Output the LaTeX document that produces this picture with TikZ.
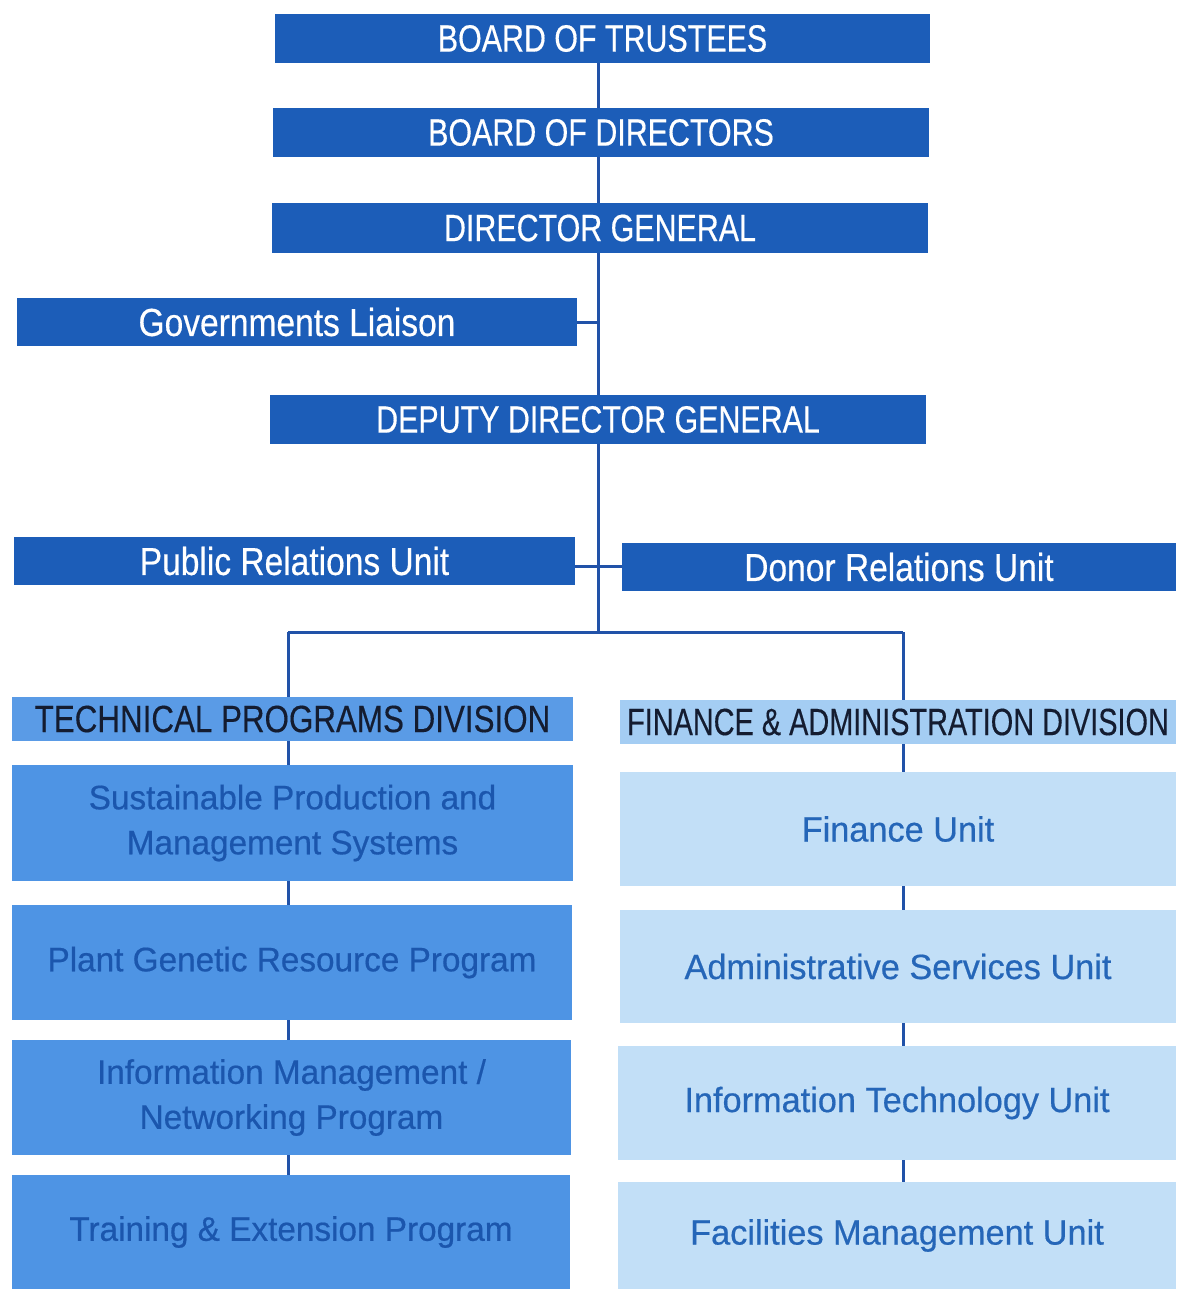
\documentclass[tikz,border=0pt]{standalone}
\usepackage{fontspec}
\setmainfont{Liberation Sans}
\newfontfamily\capsfont{Liberation Sans}[FakeStretch=0.80,FakeBold=0.4]
\newfontfamily\mixfont{Liberation Sans}[FakeStretch=0.86,FakeBold=0.4]
\newfontfamily\tpdfont{Liberation Sans}[FakeStretch=0.825,FakeBold=0.3]
\newfontfamily\fadfont{Liberation Sans}[FakeStretch=0.76,FakeBold=0.3]
\newfontfamily\boxfont{Liberation Sans}[FakeStretch=0.98,FakeBold=0.5]
\begin{document}
\begin{tikzpicture}[x=1pt,y=-1pt,
  dark/.style={fill=dkblue,text=white,inner sep=0pt,font=\capsfont\fontsize{38}{40}\selectfont},
  darkmix/.style={dark,font=\mixfont\fontsize{39}{41}\selectfont},
  head/.style={inner sep=0pt,text=headtext},
  lbox/.style={fill=midblue,text=midtext,inner sep=0pt,align=center,font=\boxfont\fontsize{34}{45}\selectfont},
  rbox/.style={fill=ltblue,text=lttext,inner sep=0pt,align=center,font=\boxfont\fontsize{35}{45}\selectfont},
  link/.style={draw=linecol,line width=3pt}]
\definecolor{dkblue}{HTML}{1C5DB8}
\definecolor{midblue}{HTML}{4E94E4}
\definecolor{midtext}{HTML}{1B56AD}
\definecolor{ltblue}{HTML}{C2DFF7}
\definecolor{lttext}{HTML}{2566B8}
\definecolor{headmid}{HTML}{5A9BE6}
\definecolor{headlt}{HTML}{A4CDF3}
\definecolor{headtext}{HTML}{141C30}
\definecolor{linecol}{HTML}{2152A8}
\useasboundingbox[fill=white] (0,0) rectangle (1176,1289);
% top column
\node[dark,minimum width=655pt,minimum height=49pt] (bot) at (602.5,38.5) {BOARD OF TRUSTEES};
\node[dark,minimum width=656pt,minimum height=49pt] (bod) at (601,132.5) {BOARD OF DIRECTORS};
\node[dark,minimum width=656pt,minimum height=50pt] (dg) at (600,228) {DIRECTOR GENERAL};
\node[darkmix,minimum width=560pt,minimum height=48pt] (gl) at (297,322) {Governments Liaison};
\node[dark,minimum width=656pt,minimum height=49pt] (ddg) at (598,419.5) {DEPUTY DIRECTOR GENERAL};
\node[darkmix,minimum width=561pt,minimum height=48pt] (pr) at (294.5,561) {Public Relations Unit};
\node[darkmix,minimum width=554pt,minimum height=48pt] (dr) at (899,567) {Donor Relations Unit};
% divisions
\node[head,fill=headmid,minimum width=561pt,minimum height=44pt,font=\tpdfont\fontsize{38}{40}\selectfont] (tpd) at (292.5,719) {TECHNICAL PROGRAMS DIVISION};
\node[head,fill=headlt,minimum width=556pt,minimum height=44pt,font=\fadfont\fontsize{38}{40}\selectfont] (fad) at (898,722) {FINANCE \& ADMINISTRATION DIVISION};
% left column
\node[lbox,minimum width=561pt,minimum height=116pt] (sp) at (292.5,823) {Sustainable Production and\\Management Systems};
\node[lbox,minimum width=560pt,minimum height=115pt] (pg) at (292,962.5) {Plant Genetic Resource Program};
\node[lbox,minimum width=559pt,minimum height=115pt] (im) at (291.5,1097.5) {Information Management /\\Networking Program};
\node[lbox,minimum width=558pt,minimum height=114pt] (te) at (291,1232) {Training \& Extension Program};
% right column
\node[rbox,minimum width=556pt,minimum height=114pt] (fu) at (898,829) {Finance Unit};
\node[rbox,minimum width=556pt,minimum height=113pt] (as) at (898,966.5) {Administrative Services Unit};
\node[rbox,minimum width=558pt,minimum height=114pt] (it) at (897,1103) {Information Technology Unit};
\node[rbox,minimum width=558pt,minimum height=107pt] (fm) at (897,1235.5) {Facilities Management Unit};
% connectors
\coordinate (sx) at (598,0);
\coordinate (j1) at (598,322);
\coordinate (j2) at (598,566);
\coordinate (j3) at (598,632);
\coordinate (jl) at (288,632);
\coordinate (jr) at (903,632);
\draw[link] (sx |- bot.south) -- (sx |- bod.north);
\draw[link] (sx |- bod.south) -- (sx |- dg.north);
\draw[link] (sx |- dg.south) -- (sx |- ddg.north);
\draw[link] (gl.east) -- (j1);
\draw[link] (sx |- ddg.south) -- (j3);
\draw[link] (pr.east |- j2) -- (dr.west |- j2);
\draw[link] (jl) -- (jr);
\draw[link] (jl) -- (jl |- tpd.north);
\draw[link] (jr) -- (jr |- fad.north);
\draw[link] (jl |- tpd.south) -- (jl |- sp.north);
\draw[link] (jl |- sp.south) -- (jl |- pg.north);
\draw[link] (jl |- pg.south) -- (jl |- im.north);
\draw[link] (jl |- im.south) -- (jl |- te.north);
\draw[link] (jr |- fad.south) -- (jr |- fu.north);
\draw[link] (jr |- fu.south) -- (jr |- as.north);
\draw[link] (jr |- as.south) -- (jr |- it.north);
\draw[link] (jr |- it.south) -- (jr |- fm.north);
\end{tikzpicture}
\end{document}
